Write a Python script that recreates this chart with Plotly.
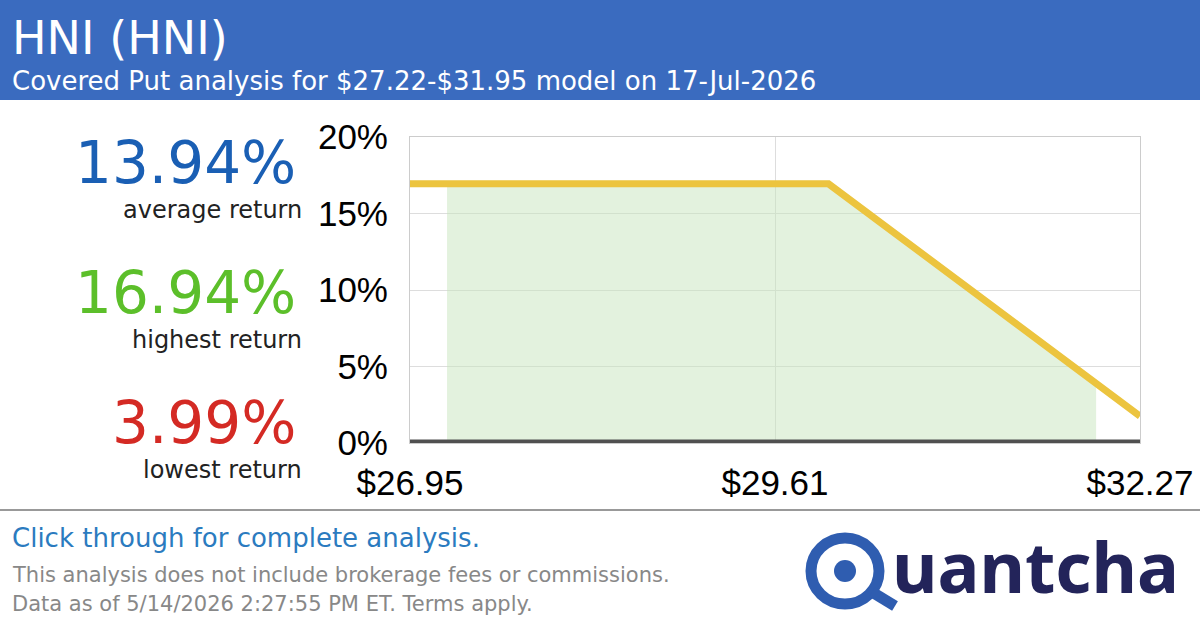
import plotly.graph_objects as go

# data
line_x = [26.95, 30.00, 32.27]
line_y = [16.94, 16.94, 1.76]
fill_x = [27.22, 30.00, 31.95]
fill_y = [16.94, 16.94, 3.9]
x_ticks = [26.95, 29.61, 32.27]
x_labels = ["$26.95", "$29.61", "$32.27"]
y_ticks = [0, 5, 10, 15, 20]
y_labels = ["0%", "5%", "10%", "15%", "20%"]
stats = [("13.94%", "average return", "#1a5fb4"),
         ("16.94%", "highest return", "#5cbf2a"),
         ("3.99%", "lowest return", "#d42a24")]

TXT = "DejaVu Sans"

fig = go.Figure()
fig.add_trace(go.Scatter(x=fill_x, y=fill_y, fill="tozeroy", mode="none",
                         fillcolor="rgba(200,230,190,0.5)", hoverinfo="skip"))
fig.add_trace(go.Scatter(x=line_x, y=line_y, mode="lines",
                         line=dict(color="#ecc43f", width=7), hoverinfo="skip"))
fig.add_trace(go.Scatter(x=[26.95, 32.27], y=[0, 0], mode="lines",
                         line=dict(color="#505050", width=7), hoverinfo="skip"))

fig.update_layout(
    width=1200, height=630, showlegend=False,
    paper_bgcolor="white", plot_bgcolor="white",
    margin=dict(l=410, r=60, t=137, b=187),
    font=dict(family="Liberation Sans, Arial", color="black"),
)
fig.update_xaxes(range=[26.95, 32.27], tickvals=x_ticks, ticktext=x_labels,
                 tickfont=dict(size=35), showgrid=True, gridcolor="#dddddd",
                 showline=True, linecolor="#cccccc", mirror=True, zeroline=False,
                 ticks="", ticklabelstandoff=9, automargin=False)
fig.update_yaxes(range=[0, 20], tickvals=y_ticks, ticktext=y_labels,
                 tickfont=dict(size=35), showgrid=True, gridcolor="#dddddd",
                 showline=True, linecolor="#cccccc", mirror=True, zeroline=False,
                 ticks="", ticklabelstandoff=14, automargin=False)

# header band
fig.add_shape(type="rect", xref="paper", yref="paper", x0=-1, x1=2, y0=1 + 37 / 306, y1=2,
              fillcolor="#3a6bbf", line_width=0, layer="below")
def px(x, y):
    return dict(xref="paper", yref="paper", x=(x - 410) / 730, y=(443 - y) / 306)

fig.add_annotation(text="HNI (HNI)", showarrow=False, xanchor="left", yanchor="middle",
                   font=dict(family=TXT, size=46, color="white"), **px(10, 38))
fig.add_annotation(text="Covered Put analysis for $27.22-$31.95 model on 17-Jul-2026",
                   showarrow=False, xanchor="left", yanchor="middle",
                   font=dict(family=TXT, size=26, color="white"), **px(10, 81))

ys = [163, 293, 423]
for (val, lab, col), yy in zip(stats, ys):
    fig.add_annotation(text=val, showarrow=False, xanchor="right", yanchor="middle",
                       font=dict(family=TXT, size=58, color=col), **px(298, yy))
    fig.add_annotation(text=lab, showarrow=False, xanchor="right", yanchor="middle",
                       font=dict(family=TXT, size=24, color="#222222"), **px(304, yy + 47))

# footer
fig.add_shape(type="line", xref="paper", yref="paper", x0=-1, x1=2,
              y0=(443 - 510) / 306, y1=(443 - 510) / 306, line=dict(color="#999999", width=2))
fig.add_annotation(text="Click through for complete analysis.", showarrow=False,
                   xanchor="left", yanchor="middle",
                   font=dict(family=TXT, size=26, color="#2b7bbf"), **px(10, 538))
fig.add_annotation(text="This analysis does not include brokerage fees or commissions.",
                   showarrow=False, xanchor="left", yanchor="middle",
                   font=dict(family=TXT, size=21, color="#888888"), **px(10, 575))
fig.add_annotation(text="Data as of 5/14/2026 2:27:55 PM ET. Terms apply.",
                   showarrow=False, xanchor="left", yanchor="middle",
                   font=dict(family=TXT, size=21, color="#888888"), **px(10, 604))

# logo
def pxx(x):
    return (x - 410) / 730
def pxy(y):
    return (443 - y) / 306
fig.add_shape(type="circle", xref="paper", yref="paper", x0=pxx(811), x1=pxx(879),
              y0=pxy(604), y1=pxy(538), line=dict(color="#2f5db0", width=11))
fig.add_shape(type="circle", xref="paper", yref="paper", x0=pxx(834), x1=pxx(856),
              y0=pxy(582), y1=pxy(560), fillcolor="#2f5db0", line_width=0)
fig.add_shape(type="line", xref="paper", yref="paper", x0=pxx(872), x1=pxx(895),
              y0=pxy(592), y1=pxy(606), line=dict(color="#2f5db0", width=11))
fig.add_annotation(text="<b>uantcha</b>", showarrow=False, xanchor="left", yanchor="middle",
                   font=dict(family="Noto Sans", size=70, color="#23245a"), **px(890, 566))

fig.write_html("out.html", post_script="document.body.style.margin='0';",
               config={"displayModeBar": False})
